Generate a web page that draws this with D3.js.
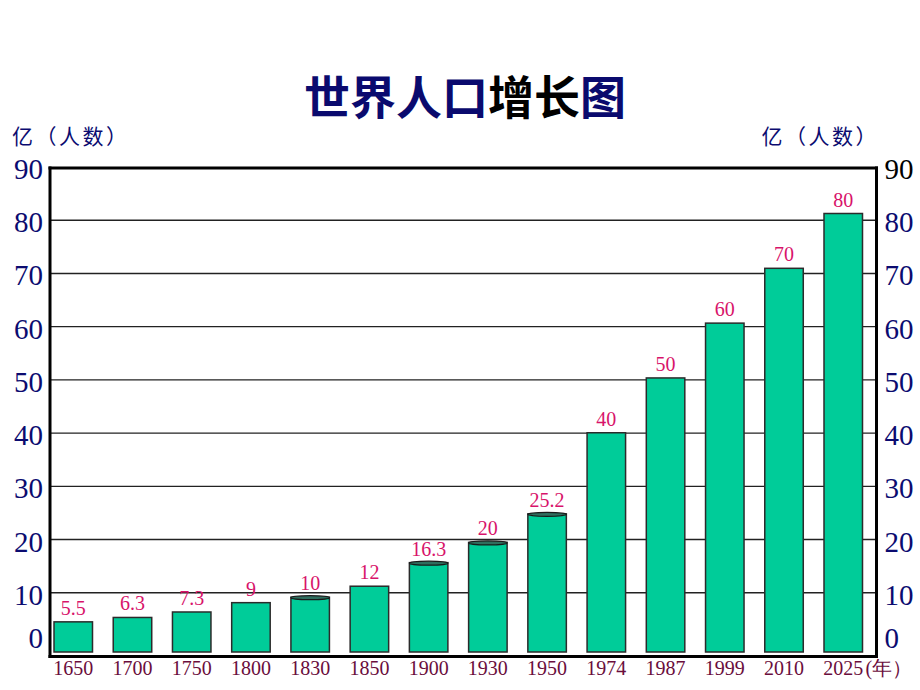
<!DOCTYPE html>
<html>
<head>
<meta charset="utf-8">
<script src="https://cdn.jsdelivr.net/npm/d3@7/dist/d3.min.js"></script>
<style>
  html, body { margin: 0; padding: 0; background: #ffffff; }
  svg { display: block; }
</style>
</head>
<body>
<svg id="chart" width="920" height="690"></svg>
<script>
// ---- data ----
const years = ["1650","1700","1750","1800","1830","1850","1900","1930","1950","1974","1987","1999","2010","2025"];
const population = [5.5, 6.3, 7.3, 9, 10, 12, 16.3, 20, 25.2, 40, 50, 60, 70, 80];
const tickValues = [0, 10, 20, 30, 40, 50, 60, 70, 80, 90];
const cylinderYears = ["1830", "1900", "1930", "1950"];
const titleParts = [
  { text: "世界人口", color: "#0a0a6e" },
  { text: "增长", color: "#000000" },
  { text: "图", color: "#0a0a6e" }
];
const unitLabel = "亿（人数）";
const yearUnit = "(年）";

// ---- layout ----
const W = 920, H = 690;
const plotL = 50, plotR = 876.5, plotT = 168, plotB = 656.5;
const svg = d3.select("#chart");
svg.append("rect").attr("width", W).attr("height", H).attr("fill", "#ffffff");

const x = d3.scaleBand().domain(years).range([plotL + 4, plotR - 14]).paddingInner(0.35).paddingOuter(0);
const yGrid = d3.scaleLinear().domain([0, 90]).range([plotB - 10.5, plotT - 1]);
const yBar = d3.scaleLinear().domain([0, 80]).range([plotB - 4.5, 213.5]);

const serif = "Liberation Serif, Times New Roman, serif";
const cjk = "Noto Sans CJK SC, Noto Sans, sans-serif";

// gridlines
svg.append("g").selectAll("line")
  .data(tickValues.filter(v => v > 0 && v < 90))
  .join("line")
  .attr("x1", plotL).attr("x2", plotR)
  .attr("y1", d => yGrid(d)).attr("y2", d => yGrid(d))
  .attr("stroke", "#222").attr("stroke-width", 1.4);

// bars
const data = years.map((yr, i) => ({ year: yr, value: population[i] }));
const bars = svg.append("g");
bars.selectAll("rect")
  .data(data)
  .join("rect")
  .attr("x", d => x(d.year))
  .attr("width", x.bandwidth())
  .attr("y", d => yBar(d.value))
  .attr("height", d => yBar(0) - yBar(d.value))
  .attr("fill", "#00cc99")
  .attr("stroke", "#2b2b2b")
  .attr("stroke-width", 1.5);

// cylinder caps
bars.selectAll("ellipse")
  .data(data.filter(d => cylinderYears.includes(d.year)))
  .join("ellipse")
  .attr("cx", d => x(d.year) + x.bandwidth() / 2)
  .attr("cy", d => yBar(d.value) + 0.5)
  .attr("rx", x.bandwidth() / 2)
  .attr("ry", 2)
  .attr("fill", "#2f6e5e")
  .attr("stroke", "#1a1a1a")
  .attr("stroke-width", 1.2);

// frame
const frame = svg.append("g").attr("stroke", "#000").attr("stroke-width", 3).attr("fill", "none");
frame.append("line").attr("x1", plotL).attr("x2", plotL).attr("y1", plotT - 1.5).attr("y2", plotB + 1.5);
frame.append("line").attr("x1", plotR).attr("x2", plotR).attr("y1", plotT - 1.5).attr("y2", plotB + 1.5);
frame.append("line").attr("x1", plotL - 1.5).attr("x2", plotR + 1.5).attr("y1", plotT).attr("y2", plotT);
frame.append("line").attr("x1", plotL - 1.5).attr("x2", plotR + 1.5).attr("y1", plotB).attr("y2", plotB);

// y tick labels (both sides)
const labelY = v => v === 0 ? yGrid(0) - 8 : yGrid(v) + 2;
svg.append("g").selectAll("text")
  .data(tickValues)
  .join("text")
  .attr("x", plotL - 7)
  .attr("y", d => labelY(d))
  .attr("text-anchor", "end")
  .attr("dominant-baseline", "central")
  .style("font-family", serif)
  .attr("font-size", 29)
  .attr("fill", "#0b0b70")
  .text(d => d);
svg.append("g").selectAll("text")
  .data(tickValues)
  .join("text")
  .attr("x", plotR + 8)
  .attr("y", d => labelY(d))
  .attr("text-anchor", "start")
  .attr("dominant-baseline", "central")
  .style("font-family", serif)
  .attr("font-size", 29)
  .attr("fill", d => d === 90 ? "#000000" : "#0b0b70")
  .text(d => d);

// x labels
svg.append("g").selectAll("text")
  .data(years)
  .join("text")
  .attr("x", d => x(d) + x.bandwidth() / 2)
  .attr("y", 675)
  .attr("text-anchor", "middle")
  .style("font-family", serif)
  .attr("font-size", 20)
  .attr("fill", "#6a0d3c")
  .text(d => d);
svg.append("text")
  .attr("x", x(years[years.length - 1]) + x.bandwidth() + 3)
  .attr("y", 675)
  .style("font-family", serif)
  .attr("font-size", 20)
  .attr("fill", "#6a0d3c")
  .text(yearUnit);

// value labels
svg.append("g").selectAll("text")
  .data(data)
  .join("text")
  .attr("x", d => x(d.year) + x.bandwidth() / 2)
  .attr("y", d => yBar(d.value) - 7)
  .attr("text-anchor", "middle")
  .style("font-family", serif)
  .attr("font-size", 20)
  .attr("fill", "#d8136a")
  .text(d => d.value);

// unit labels
svg.append("text")
  .attr("x", 12).attr("y", 135)
  .attr("dominant-baseline", "central")
  .style("font-family", cjk).attr("font-size", 21)
  .attr("letter-spacing", 2.5)
  .attr("fill", "#0b0b70")
  .text(unitLabel);
svg.append("text")
  .attr("x", 879).attr("y", 135)
  .attr("text-anchor", "end")
  .attr("dominant-baseline", "central")
  .style("font-family", cjk).attr("font-size", 21)
  .attr("letter-spacing", 2.5)
  .attr("fill", "#0b0b70")
  .text(unitLabel);

// title
const title = svg.append("text")
  .attr("x", 465).attr("y", 94)
  .attr("text-anchor", "middle")
  .attr("dominant-baseline", "central")
  .style("font-family", cjk).attr("font-size", 46).attr("font-weight", "bold");
title.selectAll("tspan").data(titleParts).join("tspan")
  .attr("fill", d => d.color)
  .text(d => d.text);
</script>
</body>
</html>
